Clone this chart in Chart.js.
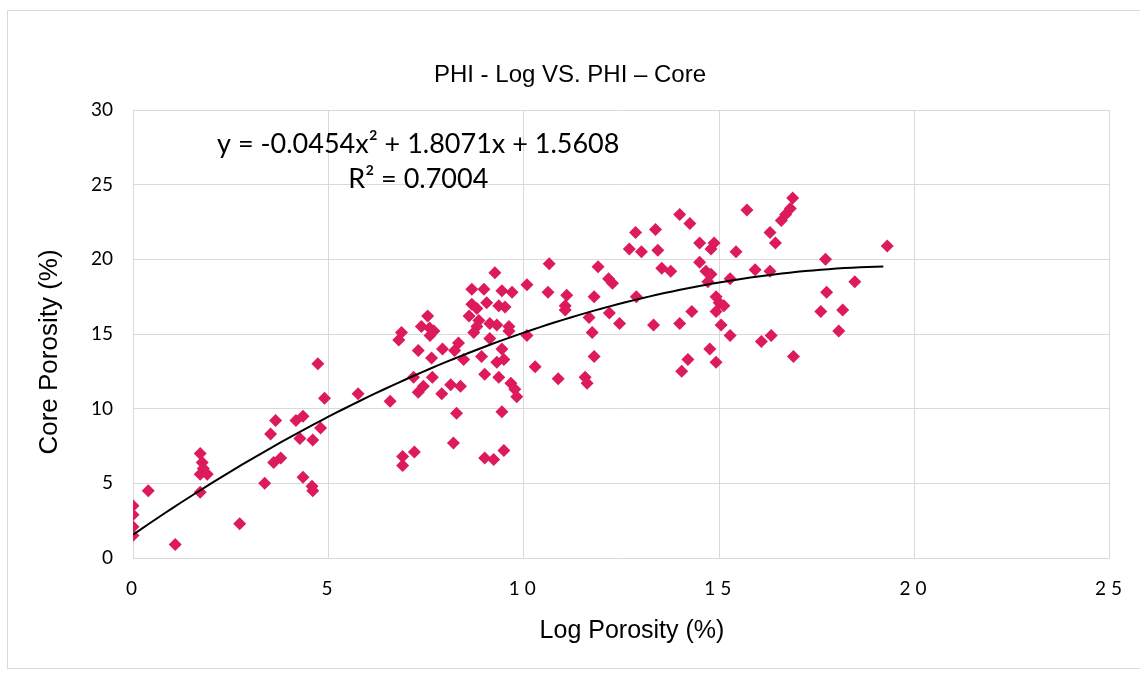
<!DOCTYPE html>
<html>
<head>
<meta charset="utf-8">
<script src="https://cdn.jsdelivr.net/npm/chart.js@4.4.1/dist/chart.umd.min.js"></script>
<style>
  html, body { margin: 0; padding: 0; background: #fff; }
  #frame { position: absolute; left: 7px; top: 10px; width: 1160px; height: 657px; border: 1px solid #d9d9d9; }
  #chart { position: absolute; left: 0; top: 0; }
</style>
</head>
<body>
<div id="frame"></div>
<canvas id="chart" width="1140" height="675"></canvas>
<script>
// valeurs (Log Porosity %, Core Porosity %)
const logPorosity = [
  0, 0, 0, 0, 0.39, 1.08, 1.72, 1.77, 1.8, 1.72, 1.9, 1.72, 2.73, 3.37, 3.52, 3.65, 3.6, 3.78,
  4.17, 4.35, 4.27, 4.6, 4.8, 4.35, 4.58, 4.6, 4.73, 4.9, 5.76, 6.58, 6.9, 6.9, 7.2, 6.87, 6.8,
  7.3, 7.54, 7.38, 7.59, 7.7, 7.6, 7.64, 7.92, 7.18, 7.43, 7.3, 7.66, 7.9, 8.13, 8.38, 8.28, 8.2,
  8.23, 8.33, 8.46, 8.67, 8.98, 9.26, 9.44, 9.7, 10.08, 8.67, 8.8, 9.05, 9.36, 9.52, 8.6, 8.85,
  8.8, 9.13, 9.31, 9.62, 8.72, 9.62, 9.13, 9.44, 8.92, 9.31, 9.49, 9.0, 9.36, 9.67, 9.77, 9.82,
  9.44, 9.0, 9.23, 9.49, 10.08, 10.29, 10.65, 10.62, 10.88, 11.1, 11.06, 11.06, 11.57, 11.62,
  11.67, 11.75, 11.8, 11.8, 11.9, 12.17, 12.27, 12.19, 12.45, 12.7, 12.86, 13.01, 12.88, 13.37,
  13.43, 13.32, 13.53, 13.76, 13.99, 14.25, 13.99, 14.3, 14.04, 14.2, 14.5, 14.79, 14.87, 14.5,
  14.66, 14.79, 14.71, 14.92, 15.0, 14.92, 15.12, 15.05, 15.28, 14.76, 14.92, 15.43, 15.71,
  15.92, 16.3, 16.08, 16.33, 16.3, 16.44, 16.59, 16.7, 16.82, 16.88, 16.9, 19.3, 17.72, 18.47,
  17.75, 17.6, 18.16, 18.06, 15.28
];
const corePorosity = [
  3.5, 2.9, 2.1, 1.5, 4.5, 0.9, 7.0, 6.4, 6.0, 5.6, 5.6, 4.4, 2.3, 5.0, 8.3, 9.2, 6.4, 6.7,
  9.2, 9.5, 8.0, 7.9, 8.7, 5.4, 4.8, 4.5, 13.0, 10.7, 11.0, 10.5, 6.8, 6.2, 7.1, 15.1, 14.6,
  13.9, 16.2, 15.5, 15.4, 15.2, 14.9, 13.4, 14.0, 12.1, 11.5, 11.1, 12.1, 11.0, 11.6, 11.5, 9.7, 7.7,
  13.9, 14.4, 13.3, 18.0, 18.0, 19.1, 17.9, 17.8, 18.3, 17.0, 16.7, 17.1, 16.9, 16.8, 16.2, 15.9,
  15.5, 15.7, 15.6, 15.5, 15.1, 15.2, 14.7, 14.0, 13.5, 13.1, 13.3, 12.3, 12.1, 11.7, 11.3, 10.8,
  9.8, 6.7, 6.6, 7.2, 14.9, 12.8, 19.7, 17.8, 12.0, 17.6, 16.9, 16.6, 12.1, 11.7,
  16.1, 15.1, 13.5, 17.5, 19.5, 18.7, 18.4, 16.4, 15.7, 20.7, 21.8, 20.5, 17.5, 22.0,
  20.6, 15.6, 19.4, 19.2, 23.0, 22.4, 15.7, 16.5, 12.5, 13.3, 21.1, 20.7, 21.1, 19.8,
  19.2, 19.0, 18.5, 17.5, 17.1, 16.5, 16.9, 15.6, 14.9, 14.0, 13.1, 20.5, 23.3,
  19.3, 19.2, 14.5, 14.9, 21.8, 21.1, 22.6, 23.0, 23.4, 24.1, 13.5, 20.9, 20.0, 18.5,
  17.8, 16.5, 16.6, 15.2, 18.7
];

// courbe de tendance polynomiale (Excel) : y = a x² + b x + c
const trendCoef = { a: -0.0454, b: 1.8071, c: 1.5608 };
const trendRange = [0, 19.2];
const equationText = 'y = -0.0454x² + 1.8071x + 1.5608';
const r2Text = 'R² = 0.7004';

const chartTitle = 'PHI - Log VS. PHI – Core';
const xTitle = 'Log Porosity (%)';
const yTitle = 'Core Porosity (%)';

const xTicks = [0, 5, 10, 15, 20, 25];
const yTicks = [0, 5, 10, 15, 20, 25, 30];

const points = logPorosity.map((x, i) => ({ x: x, y: corePorosity[i] }));
const trendPoints = [];
for (let x = trendRange[0]; x <= trendRange[1] + 1e-9; x += 0.2) {
  trendPoints.push({ x: x, y: trendCoef.a * x * x + trendCoef.b * x + trendCoef.c });
}

// titres (placés comme dans Excel, légèrement décentrés)
const titlesPlugin = {
  id: 'titles',
  afterDraw(chart) {
    const { ctx } = chart;
    ctx.save();
    ctx.fillStyle = '#000';
    ctx.textAlign = 'center';
    ctx.textBaseline = 'alphabetic';
    ctx.font = '24px "Liberation Sans"';
    ctx.fillText(chartTitle, 570, 82);
    ctx.font = '25px "Liberation Sans"';
    ctx.fillText(xTitle, 632, 638);
    ctx.translate(57, 352);
    ctx.rotate(-Math.PI / 2);
    ctx.font = '26px "Liberation Sans"';
    ctx.fillText(yTitle, 0, 0);
    ctx.restore();
  }
};

// texte de l'équation, ancré sur les échelles
const equationPlugin = {
  id: 'equation',
  afterDatasetsDraw(chart) {
    const { ctx, scales } = chart;
    const cx = scales.x.getPixelForValue(7.3);
    ctx.save();
    ctx.fillStyle = '#000';
    ctx.textAlign = 'center';
    ctx.textBaseline = 'alphabetic';
    ctx.font = '27px Lato';
    ctx.fillText(equationText, cx, scales.y.getPixelForValue(27.1));
    ctx.fillText(r2Text, cx, scales.y.getPixelForValue(24.75));
    ctx.restore();
  }
};

// espacement des chiffres de l'axe X comme sur l'original
const spacedTicksPlugin = {
  id: 'spacedTicks',
  afterUpdate(chart) {
    const s = chart.scales.x;
    if (s._spaced) return;
    const orig = s.drawLabels.bind(s);
    s.drawLabels = function (area) {
      this.ctx.save();
      this.ctx.letterSpacing = '5px';
      this.ctx.translate(1, 0);
      orig(area);
      this.ctx.restore();
    };
    s._spaced = true;
  }
};

new Chart(document.getElementById('chart').getContext('2d'), {
  type: 'scatter',
  data: {
    datasets: [
      {
        label: 'Core',
        data: points,
        pointStyle: 'rectRot',
        pointRadius: 6.5,
        pointBorderWidth: 0,
        backgroundColor: '#DC1A5C',
        borderColor: '#DC1A5C',
        order: 2
      },
      {
        label: 'Poly. (Core)',
        data: trendPoints,
        type: 'line',
        showLine: true,
        pointRadius: 0,
        borderColor: '#000',
        borderWidth: 2,
        tension: 0,
        fill: false,
        order: 1
      }
    ]
  },
  options: {
    responsive: false,
    devicePixelRatio: 1,
    animation: false,
    layout: { padding: { left: 0, top: 110, right: 28, bottom: 0 } },
    plugins: {
      legend: { display: false },
      tooltip: { enabled: false },
      title: { display: false }
    },
    scales: {
      x: {
        type: 'linear',
        min: 0,
        max: 25,
        afterBuildTicks: (s) => { s.ticks = xTicks.map(v => ({ value: v })); },
        afterFit: (s) => { s.height = 117; },
        grid: { color: '#d9d9d9', lineWidth: 1, drawTicks: false },
        border: { color: '#d9d9d9', width: 1 },
        ticks: { color: '#000', padding: 19, font: { family: 'Lato', size: 19 } }
      },
      y: {
        type: 'linear',
        min: 0,
        max: 30,
        afterBuildTicks: (s) => { s.ticks = yTicks.map(v => ({ value: v })); },
        afterFit: (s) => { s.width = 133; },
        grid: { color: '#d9d9d9', lineWidth: 1, drawTicks: false },
        border: { display: false },
        ticks: { color: '#000', padding: 20, font: { family: 'Lato', size: 19 } }
      }
    }
  },
  plugins: [equationPlugin, titlesPlugin, spacedTicksPlugin]
});
</script>
</body>
</html>
